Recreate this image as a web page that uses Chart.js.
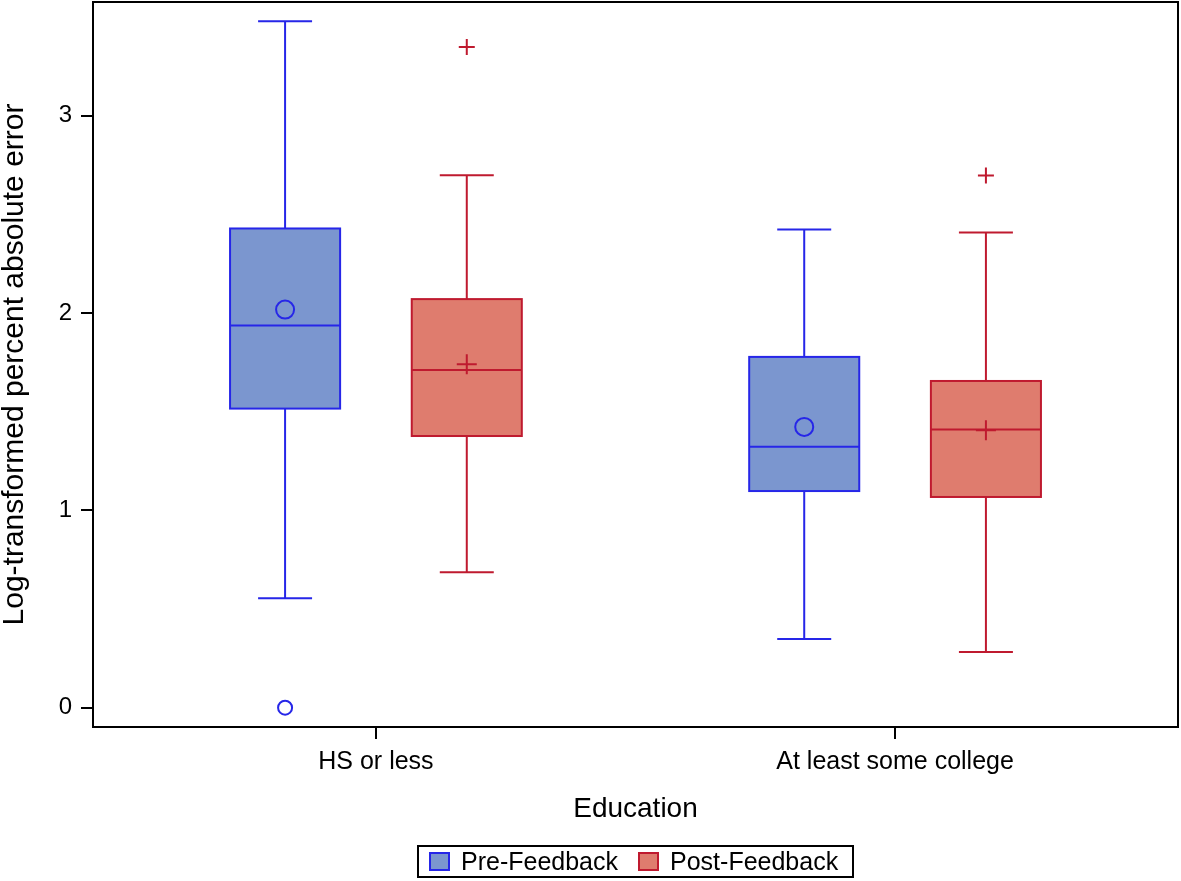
<!DOCTYPE html>
<html>
<head>
<meta charset="utf-8">
<script src="https://cdn.jsdelivr.net/npm/chart.js@4.4.1/dist/chart.umd.min.js"></script>
<style>
  body { margin: 0; background: #fff; }
  #wrap { position: relative; width: 1181px; height: 881px; }
  #legend {
    position: absolute; left: 417px; top: 845px; width: 433px; height: 29px;
    border: 2px solid #000; display: flex; align-items: center;
    font-family: "Liberation Sans", Arial, sans-serif; font-size: 25px; color: #000;
  }
  .sw { display: inline-block; width: 17px; height: 15px; border: 2px solid; margin: 0 11px 0 10px; }
</style>
</head>
<body>
<div id="wrap">
  <canvas id="boxChart" width="1181" height="881"></canvas>
  <div id="legend"></div>
</div>
<script>
// categories and series
const categories = ["HS or less", "At least some college"];
const seriesNames = ["Pre-Feedback", "Post-Feedback"];
const yTicks = [0, 1, 2, 3];

// Pre-Feedback box statistics
const preLow = [0.554, 0.348];
const preQ1 = [1.516, 1.098];
const preMedian = [1.937, 1.322];
const preQ3 = [2.429, 1.778];
const preHigh = [3.479, 2.424];
const preMean = [2.018, 1.423];
const preOutliers = [[0.0], []];

// Post-Feedback box statistics
const postLow = [0.686, 0.282];
const postQ1 = [1.377, 1.068];
const postMedian = [1.712, 1.410];
const postQ3 = [2.071, 1.656];
const postHigh = [2.699, 2.409];
const postMean = [1.741, 1.406];
const postOutliers = [[3.349], [2.698]];

const font = "'Liberation Sans', Arial, sans-serif";
const OFFSET = 0.175;   // group offset from category centre (x units)
const BOX_HALF = 0.106; // half box width
const CAP_HALF = 0.052; // half whisker cap width

const groups = [
  { name: seriesNames[0], off: -OFFSET, low: preLow, q1: preQ1, med: preMedian, q3: preQ3, high: preHigh,
    mean: preMean, out: preOutliers, fill: "#7b96cf", line: "#2626e8", meanStyle: "circle", outStyle: "circle" },
  { name: seriesNames[1], off: OFFSET, low: postLow, q1: postQ1, med: postMedian, q3: postQ3, high: postHigh,
    mean: postMean, out: postOutliers, fill: "#df7c6e", line: "#bf1a2f", meanStyle: "cross", outStyle: "cross" },
];

// box/whisker drawing from the stats arrays through the chart scales
const boxPlugin = {
  id: "boxes",
  beforeDatasetsDraw(chart) {
    const { ctx, scales: { x, y } } = chart;
    ctx.save();
    ctx.lineWidth = 2;
    groups.forEach(g => {
      categories.forEach((c, i) => {
        const pos = i + 1 + g.off;
        const cx = x.getPixelForValue(pos);
        const l = x.getPixelForValue(pos - BOX_HALF), r = x.getPixelForValue(pos + BOX_HALF);
        const cl = x.getPixelForValue(pos - CAP_HALF), cr = x.getPixelForValue(pos + CAP_HALF);
        const yLow = y.getPixelForValue(g.low[i]), yQ1 = y.getPixelForValue(g.q1[i]);
        const yMed = y.getPixelForValue(g.med[i]), yQ3 = y.getPixelForValue(g.q3[i]);
        const yHigh = y.getPixelForValue(g.high[i]);
        ctx.strokeStyle = g.line;
        ctx.beginPath();
        ctx.moveTo(cx, yQ3); ctx.lineTo(cx, yHigh);
        ctx.moveTo(cl, yHigh); ctx.lineTo(cr, yHigh);
        ctx.moveTo(cx, yQ1); ctx.lineTo(cx, yLow);
        ctx.moveTo(cl, yLow); ctx.lineTo(cr, yLow);
        ctx.stroke();
        ctx.fillStyle = g.fill;
        ctx.fillRect(l, yQ3, r - l, yQ1 - yQ3);
        ctx.strokeRect(l, yQ3, r - l, yQ1 - yQ3);
        ctx.beginPath();
        ctx.moveTo(l, yMed); ctx.lineTo(r, yMed);
        ctx.stroke();
      });
    });
    ctx.restore();
  },
  afterDraw(chart) {
    const { ctx, chartArea: a } = chart;
    ctx.save();
    ctx.strokeStyle = "#000";
    ctx.lineWidth = 2;
    ctx.strokeRect(a.left, a.top, a.right - a.left, a.bottom - a.top);
    ctx.restore();
  }
};

const datasets = [];
groups.forEach(g => {
  datasets.push({
    label: g.name + " mean",
    data: g.mean.map((v, i) => ({ x: i + 1 + g.off, y: v })),
    pointStyle: g.meanStyle, radius: g.meanStyle === "circle" ? 9 : 10,
    borderColor: g.line, backgroundColor: "rgba(0,0,0,0)", borderWidth: 2,
  });
  const outs = [];
  g.out.forEach((vals, i) => vals.forEach(v => outs.push({ x: i + 1 + g.off, y: v })));
  datasets.push({
    label: g.name + " outliers",
    data: outs,
    pointStyle: g.outStyle, radius: g.outStyle === "circle" ? 7 : 8,
    borderColor: g.line, backgroundColor: "rgba(0,0,0,0)", borderWidth: 2,
  });
});

const ctx = document.getElementById("boxChart").getContext("2d");
new Chart(ctx, {
  type: "scatter",
  data: { datasets },
  plugins: [boxPlugin],
  options: {
    responsive: false,
    devicePixelRatio: 1,
    animation: false,
    layout: { autoPadding: false, padding: { top: 2, right: 3, left: 0, bottom: 54 } },
    plugins: { legend: { display: false }, tooltip: { enabled: false } },
    scales: {
      x: {
        type: "linear",
        min: 0.455, max: 2.545,
        afterBuildTicks: axis => { axis.ticks = categories.map((c, i) => ({ value: i + 1 })); },
        afterFit: scale => { scale.height = 100; scale.paddingLeft = 0; scale.paddingRight = 0; },
        ticks: {
          callback: v => categories[v - 1],
          color: "#000", font: { family: font, size: 25 }, padding: 8, maxRotation: 0,
        },
        grid: { drawOnChartArea: false, drawTicks: true, tickLength: 12, color: "#000", lineWidth: 2 },
        border: { display: false },
        title: { display: true, text: "Education", color: "#000", font: { family: font, size: 28 }, padding: { bottom: 1 } },
      },
      y: {
        min: -0.098, max: 3.577,
        afterBuildTicks: axis => { axis.ticks = yTicks.map(v => ({ value: v })); },
        afterFit: scale => { scale.width = 93; scale.paddingTop = 0; scale.paddingBottom = 0; },
        ticks: { color: "#000", font: { family: font, size: 24 }, padding: 9 },
        grid: { drawOnChartArea: false, drawTicks: true, tickLength: 12, color: "#000", lineWidth: 2 },
        border: { display: false },
        title: { display: true, text: "Log-transformed percent absolute error", color: "#000",
                 font: { family: font, size: 30, lineHeight: 1 }, padding: { top: 0 } },
      },
    },
  },
});

// legend
const legend = document.getElementById("legend");
groups.forEach(g => {
  const sw = document.createElement("span");
  sw.className = "sw";
  sw.style.background = g.fill;
  sw.style.borderColor = g.line;
  legend.appendChild(sw);
  const t = document.createElement("span");
  t.textContent = g.name;
  t.style.marginRight = "10px";
  legend.appendChild(t);
});
</script>
</body>
</html>
